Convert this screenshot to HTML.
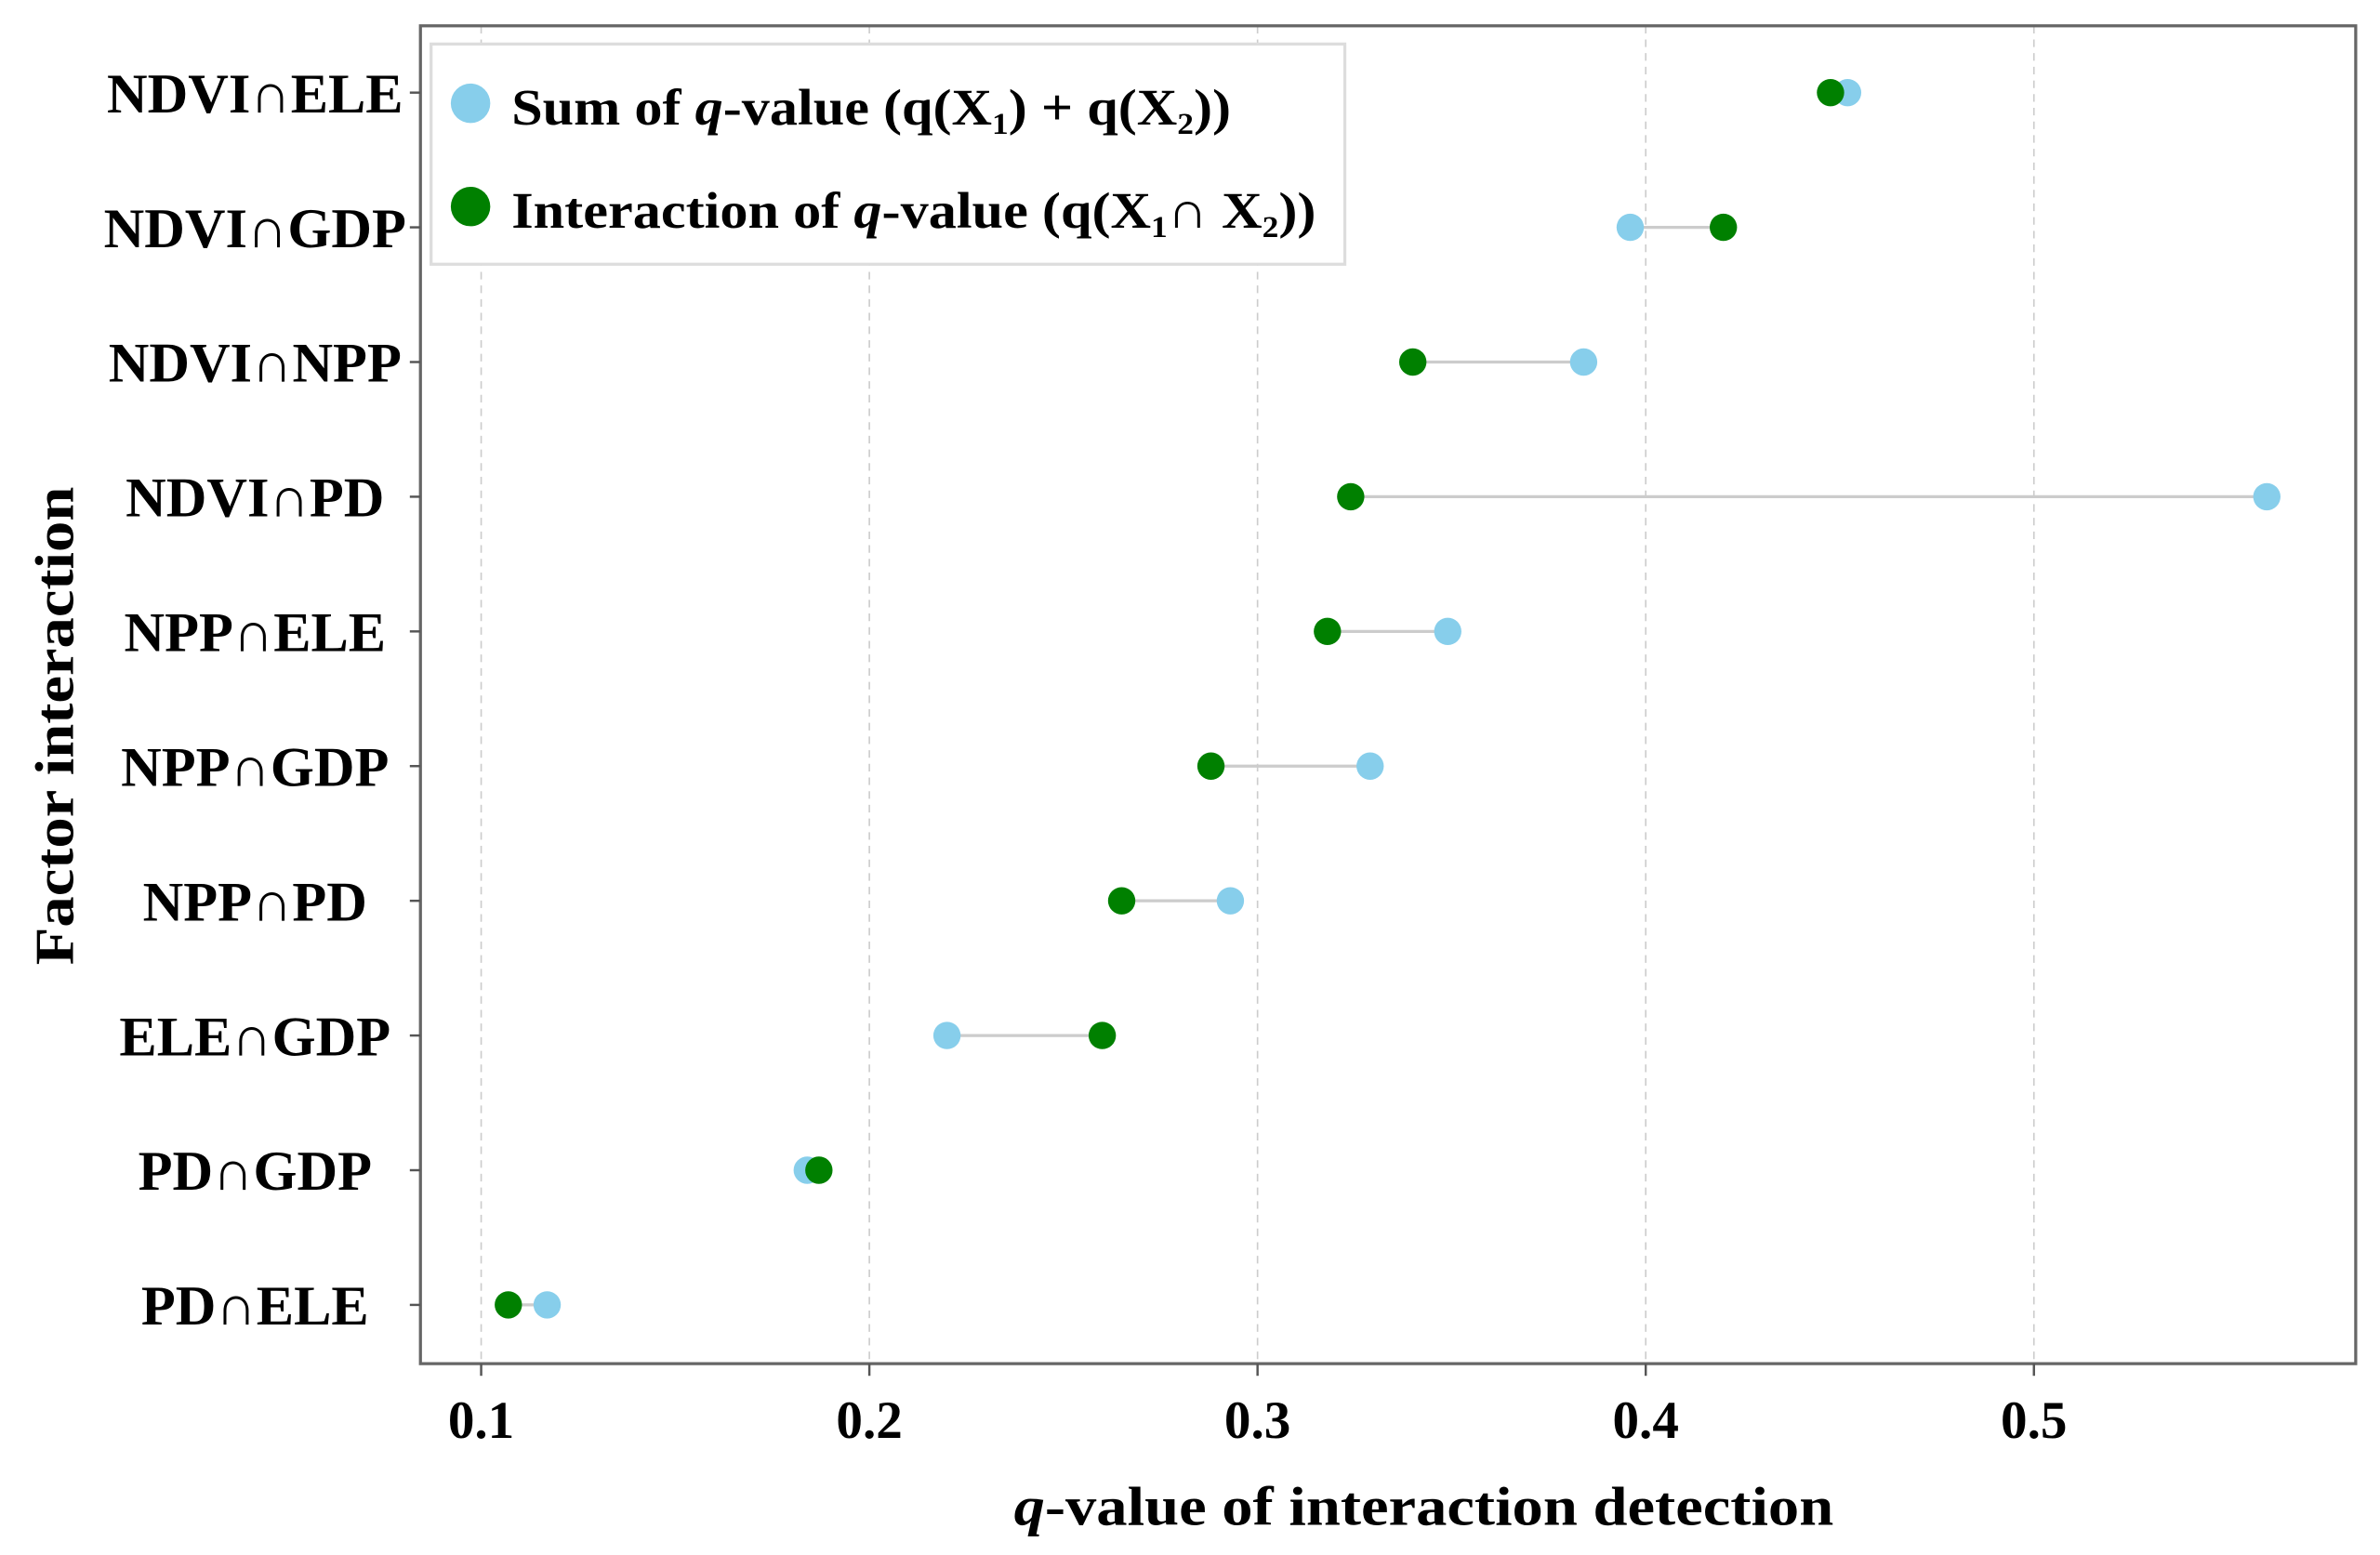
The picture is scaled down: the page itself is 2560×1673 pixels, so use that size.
<!DOCTYPE html>
<html><head><meta charset="utf-8"><style>
html,body{margin:0;padding:0;background:#fff;}
svg{display:block;}
text{font-family:"Liberation Serif","DejaVu Serif",serif;font-weight:bold;fill:#000;}
</style></head><body>
<svg id="chart" width="2560" height="1673" viewBox="0 0 1568 1024" preserveAspectRatio="none" xmlns="http://www.w3.org/2000/svg">
<g id="grid"></g>
<g id="links"></g>
<g id="pts"></g>
<rect x="277" y="17" width="1275" height="881" fill="none" stroke="#666" stroke-width="2"/>
<g id="yax"></g>
<g id="xax"></g>
<text x="938" y="1004" font-size="36" text-anchor="middle" textLength="540" lengthAdjust="spacingAndGlyphs"><tspan font-style="italic">q</tspan>-value of interaction detection</text>
<text transform="translate(48,478) rotate(-90)" font-size="36" text-anchor="middle" textLength="315" lengthAdjust="spacingAndGlyphs">Factor interaction</text>
<g>
<rect x="284" y="29" width="602" height="145" fill="#fff" stroke="#ddd" stroke-width="2"/>
<circle cx="310" cy="68" r="13" fill="#87CEEB"/>
<text x="337" y="82" font-size="34" textLength="474" lengthAdjust="spacingAndGlyphs">Sum of <tspan font-style="italic">q</tspan>-value (q(X<tspan font-size="20" dy="6">1</tspan><tspan dy="-6">) + q(X</tspan><tspan font-size="20" dy="6">2</tspan><tspan dy="-6">))</tspan></text>
<circle cx="310" cy="136" r="13" fill="#008000"/>
<text x="337" y="150" font-size="34" textLength="530" lengthAdjust="spacingAndGlyphs">Interaction of <tspan font-style="italic">q</tspan>-value (q(X<tspan font-size="20" dy="6">1</tspan><tspan dy="-6">∩ X</tspan><tspan font-size="20" dy="6">2</tspan><tspan dy="-6">))</tspan></text>
</g>
</svg>
<script>
const categories = ["NDVI∩ELE","NDVI∩GDP","NDVI∩NPP","NDVI∩PD","NPP∩ELE","NPP∩GDP","NPP∩PD","ELE∩GDP","PD∩GDP","PD∩ELE"];
const sumValues = [0.452,0.396,0.384,0.560,0.349,0.329,0.293,0.220,0.184,0.117];
const interactionValues = [0.4476,0.420,0.340,0.324,0.318,0.288,0.265,0.260,0.187,0.107];
const xTicks = [0.1,0.2,0.3,0.4,0.5];
const xTickLabels = ["0.1","0.2","0.3","0.4","0.5"];

const NS="http://www.w3.org/2000/svg";
function xScale(v){return 317+(v-0.1)*2557.5;}
function yScale(i){return 61+i*88.7;}
function mk(tag,attrs,parent){const e=document.createElementNS(NS,tag);for(const k in attrs)e.setAttribute(k,attrs[k]);parent.appendChild(e);return e;}
const grid=document.getElementById('grid'),links=document.getElementById('links'),pts=document.getElementById('pts'),yax=document.getElementById('yax'),xax=document.getElementById('xax');
xTicks.forEach((t,i)=>{
  const x=xScale(t);
  const g=mk('line',{x1:x,x2:x,y1:17,y2:898,stroke:'#ccc','stroke-width':1,'stroke-dasharray':'5,4'},grid);
  
  
  const tk=mk('line',{x1:x,x2:x,y1:898,y2:906,stroke:'#555','stroke-width':1.5},xax);
  
  
  const lb=mk('text',{x:x,y:947,'font-size':35,'text-anchor':'middle'},xax);
  lb.textContent=xTickLabels[i];
  
  
});
categories.forEach((c,i)=>{
  const y=yScale(i);
  const tk=mk('line',{x1:270,x2:277,y1:y,y2:y,stroke:'#555','stroke-width':1.5},yax);
  
  
  const lb=mk('text',{x:168,y:y+13,'font-size':37,'text-anchor':'middle'},yax);
  lb.textContent=c;
  
  
  const ln=mk('line',{x1:xScale(sumValues[i]),x2:xScale(interactionValues[i]),y1:y,y2:y,stroke:'#ccc','stroke-width':2},links);
  
  
  const s=mk('circle',{cx:xScale(sumValues[i]),cy:y,r:9,fill:'#87CEEB'},pts);
  
  
  const p=mk('circle',{cx:xScale(interactionValues[i]),cy:y,r:9,fill:'#008000'},pts);
  
  
});
</script>
</body></html>
